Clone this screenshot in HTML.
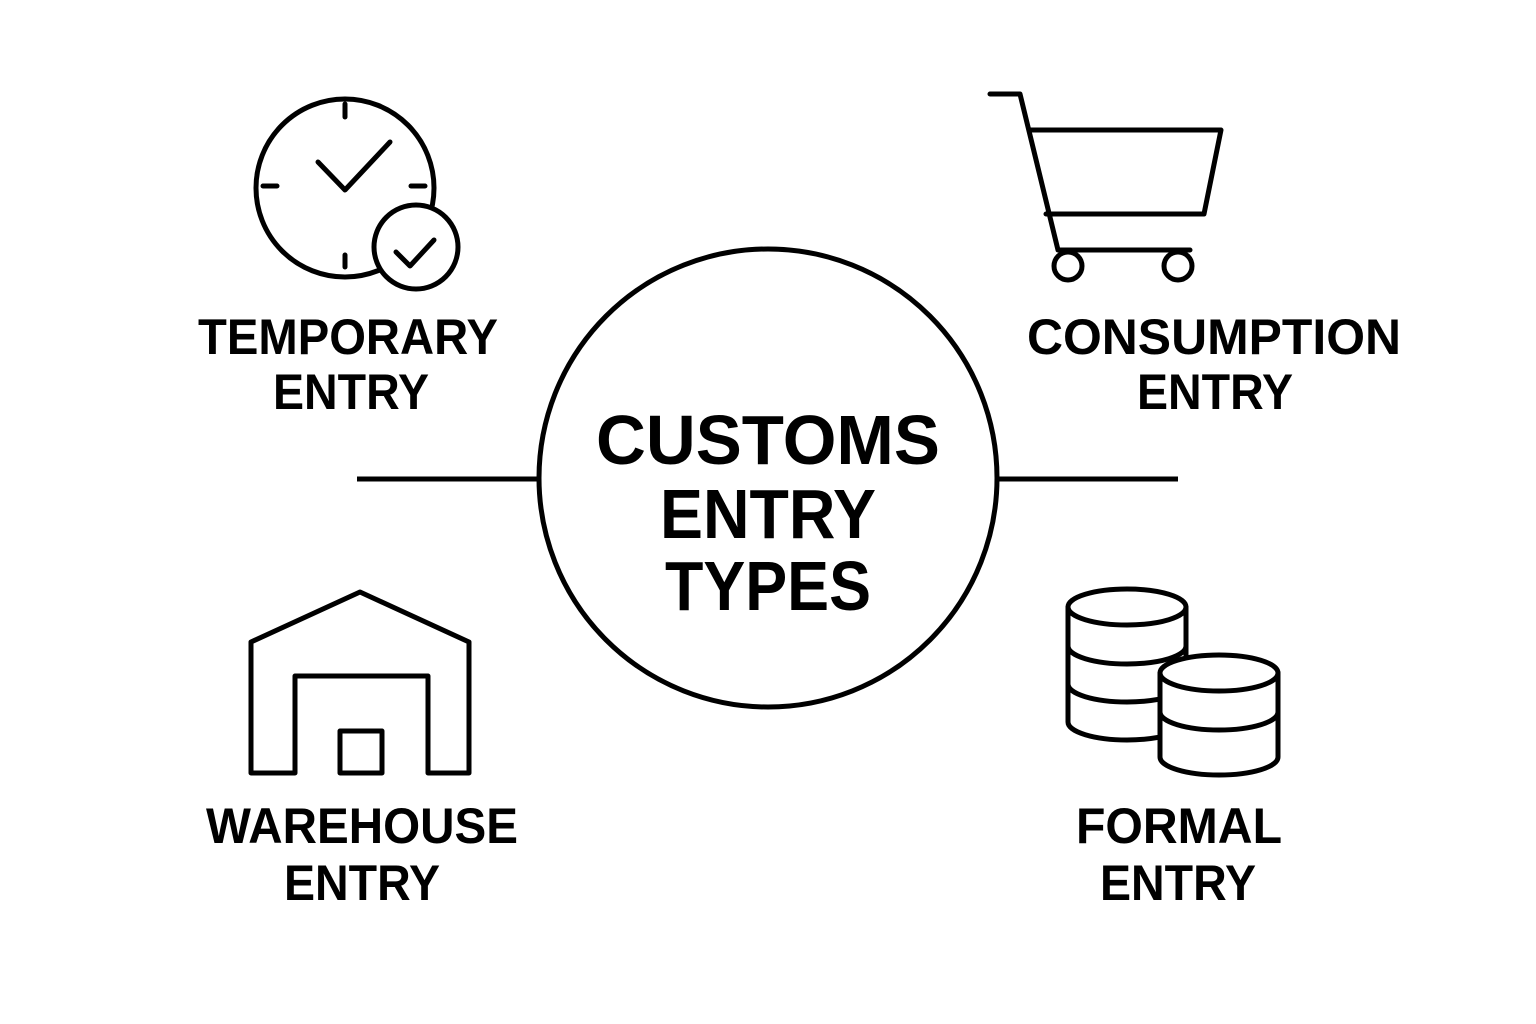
<!DOCTYPE html>
<html><head><meta charset="utf-8"><style>html,body{margin:0;padding:0;background:#fff}svg{display:block}</style></head>
<body>
<svg width="1536" height="1024" viewBox="0 0 1536 1024" xmlns="http://www.w3.org/2000/svg">
<g fill="none" stroke="#000" stroke-width="5" stroke-linecap="round" stroke-linejoin="round">
<circle cx="768" cy="478" r="229"/>
<line x1="357" y1="479" x2="539" y2="479" stroke-linecap="butt"/>
<line x1="997" y1="479" x2="1178" y2="479" stroke-linecap="butt"/>
<!-- clock -->
<circle cx="345" cy="188" r="89"/>
<line x1="345" y1="104" x2="345" y2="117"/><line x1="345" y1="255" x2="345" y2="267"/>
<line x1="263" y1="186" x2="277" y2="186"/><line x1="411" y1="186" x2="425" y2="186"/>
<polyline points="318,162 345,190 390,142"/>
<circle cx="416" cy="247" r="42" fill="#fff"/>
<polyline points="396,252 410,266 434,240"/>
<!-- cart -->
<polyline points="990,94 1020,94 1058,250 1190,250"/>
<polyline points="1029,130 1221,130 1204,214 1046,214"/>
<circle cx="1068" cy="266" r="14" fill="#fff"/>
<circle cx="1178" cy="266" r="14" fill="#fff"/>
<!-- warehouse -->
<polygon points="251,773 251,642 360,592 469,642 469,773 428,773 428,676 295,676 295,773"/>
<rect x="340" y="731" width="42" height="42"/>
<!-- coins left -->
<g>
<path d="M1068,607 L1068,722 A59,18 0 0 0 1186,722 L1186,607"/>
<ellipse cx="1127" cy="607" rx="59" ry="18"/>
<path d="M1068,646 A59,18 0 0 0 1186,646"/>
<path d="M1068,684 A59,18 0 0 0 1186,684"/>
</g>
<g>
<path d="M1160,673 L1160,757 A59,18 0 0 0 1278,757 L1278,673" fill="#fff"/>
<ellipse cx="1219" cy="673" rx="59" ry="18" fill="#fff"/>
<path d="M1160,712 A59,18 0 0 0 1278,712"/>
</g>
</g>
<g font-family="Liberation Sans, sans-serif" font-weight="bold" text-anchor="middle" fill="#000">
<text x="768" y="464" font-size="70" textLength="344" lengthAdjust="spacingAndGlyphs">CUSTOMS</text>
<text x="768" y="538" font-size="70" textLength="216" lengthAdjust="spacingAndGlyphs">ENTRY</text>
<text x="768" y="610" font-size="70" textLength="206" lengthAdjust="spacingAndGlyphs">TYPES</text>
<text x="348" y="354" font-size="50" textLength="300" lengthAdjust="spacingAndGlyphs">TEMPORARY</text>
<text x="351" y="409" font-size="50" textLength="156" lengthAdjust="spacingAndGlyphs">ENTRY</text>
<text x="1214" y="354" font-size="50" textLength="374" lengthAdjust="spacingAndGlyphs">CONSUMPTION</text>
<text x="1215" y="409" font-size="50" textLength="156" lengthAdjust="spacingAndGlyphs">ENTRY</text>
<text x="362" y="843" font-size="50" textLength="312" lengthAdjust="spacingAndGlyphs">WAREHOUSE</text>
<text x="362" y="900" font-size="50" textLength="156" lengthAdjust="spacingAndGlyphs">ENTRY</text>
<text x="1179" y="843" font-size="50" textLength="206" lengthAdjust="spacingAndGlyphs">FORMAL</text>
<text x="1178" y="900" font-size="50" textLength="156" lengthAdjust="spacingAndGlyphs">ENTRY</text>
</g>
</svg>
</body></html>
